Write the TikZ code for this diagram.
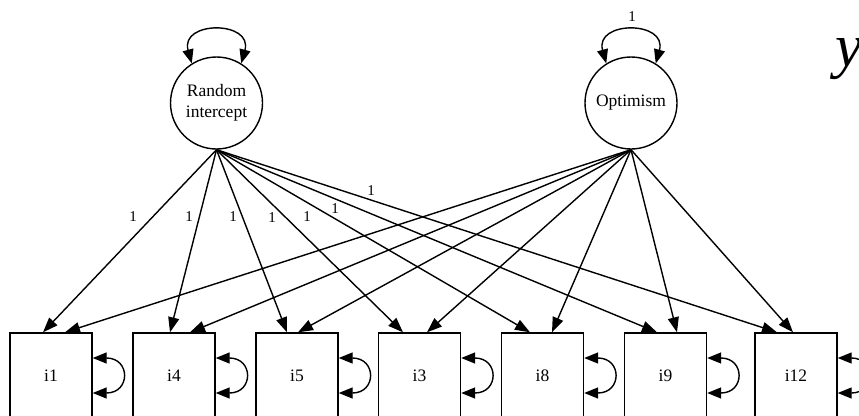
\documentclass[tikz,border=0pt]{standalone}
\usepackage{fontspec}
\setmainfont{Liberation Serif}
\usetikzlibrary{arrows.meta}
\begin{document}
\begin{tikzpicture}[x=1pt,y=-1pt,
  tip/.style={-{Triangle[length=15pt,width=11pt]}},
  tips2/.style={{Triangle[length=14pt,width=11pt]}-{Triangle[length=14pt,width=11pt]}},
  conn/.style={line width=1.4pt, tip},
  loop/.style={line width=1.4pt, tips2},
  latent/.style={circle, draw, line width=1.4pt, minimum size=92pt, inner sep=0pt, align=center, font=\fontsize{17.5}{21}\selectfont},
  item/.style={rectangle, draw, line width=1.4pt, minimum width=82pt, minimum height=86pt, inner sep=0pt, font=\fontsize{17.5}{21}\selectfont},
  one/.style={inner sep=0pt, font=\fontsize{15}{18}\selectfont}]
\useasboundingbox (0,0) rectangle (859,415);
\clip (0,0) rectangle (859,415);
% latent variables
\node[latent] (ri) at (216.5,103) {Random\\intercept};
\node[latent] (opt) at (631,103) {Optimism};
% observed items
\node[item] (b1) at (51,376) {i1};
\node[item] (b4) at (174,376) {i4};
\node[item] (b5) at (297,376) {i5};
\node[item] (b3) at (419.5,376) {i3};
\node[item] (b8) at (542.5,376) {i8};
\node[item] (b9) at (665.5,376) {i9};
\node[item] (b12) at (796,376) {i12};
% variances of latent variables
\draw[loop] (ri.122) .. controls +(-12,-43) and +(12,-43) .. (ri.58);
\draw[loop] (opt.122) .. controls +(-12,-43) and +(12,-43) .. (opt.58);
\node[one] (vopt) at (632,17) {1};
% loadings of random intercept
\draw[conn] (ri.south) -- ([xshift=-8pt]b1.north);
\draw[conn] (ri.south) -- ([xshift=-4pt]b4.north);
\draw[conn] (ri.south) -- ([xshift=-10pt]b5.north);
\draw[conn] (ri.south) -- ([xshift=-16.5pt]b3.north);
\draw[conn] (ri.south) -- ([xshift=-12.5pt]b8.north);
\draw[conn] (ri.south) -- ([xshift=-8.5pt]b9.north);
\draw[conn] (ri.south) -- ([xshift=-19pt]b12.north);
% loadings of optimism
\draw[conn] (opt.south) -- ([xshift=14pt]b1.north);
\draw[conn] (opt.south) -- ([xshift=16pt]b4.north);
\draw[conn] (opt.south) -- ([xshift=1pt]b5.north);
\draw[conn] (opt.south) -- ([xshift=7.5pt]b3.north);
\draw[conn] (opt.south) -- ([xshift=9.5pt]b8.north);
\draw[conn] (opt.south) -- ([xshift=11.5pt]b9.north);
\draw[conn] (opt.south) -- ([xshift=-3pt]b12.north);
% loading labels
\node[one] (l1) at (133,217) {1};
\node[one] (l2) at (189,217) {1};
\node[one] (l3) at (233,217) {1};
\node[one] (l4) at (272,218) {1};
\node[one] (l5) at (307,217) {1};
\node[one] (l6) at (335,209) {1};
\node[one] (l7) at (371,191) {1};
% residual variances
\foreach \b in {b1,b4,b5,b3,b8,b9,b12}{
  \draw[loop] ([yshift=-17pt]\b.east) .. controls +(38,0) and +(38,0) .. ([yshift=18pt]\b.east);
}
% letter at top right
\node[inner sep=0pt, anchor=base west, font=\fontsize{61}{61}\selectfont\itshape] (yy) at (835,66) {y};
\end{tikzpicture}
\end{document}
